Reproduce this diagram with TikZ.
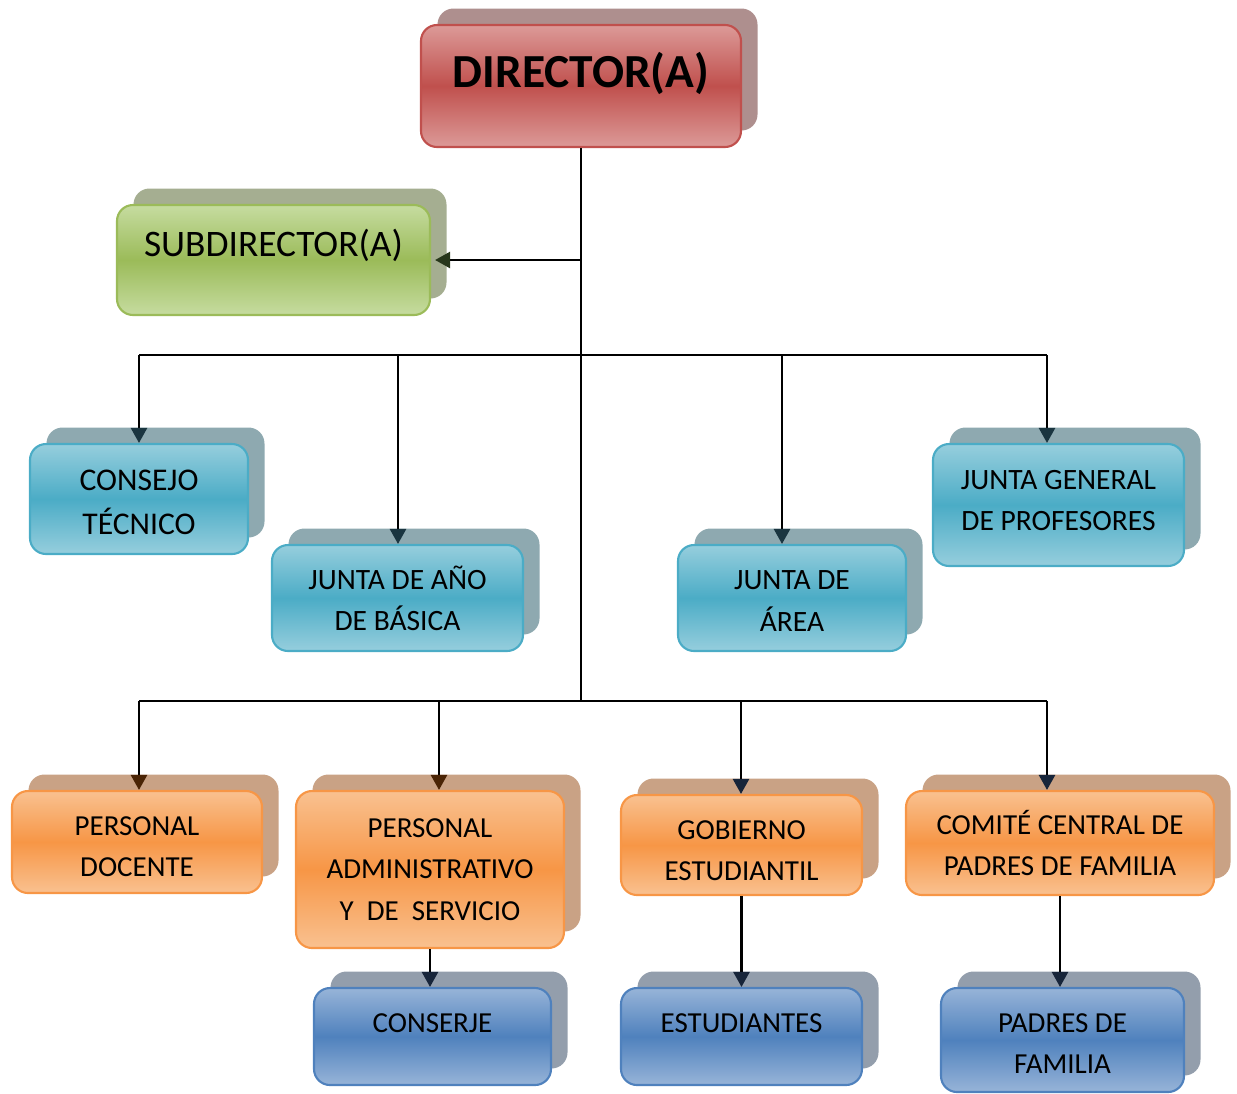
\documentclass[tikz,border=0pt]{standalone}
\usepackage{fontspec}
\setmainfont{Carlito}
\usetikzlibrary{positioning}
\usetikzlibrary{arrows.meta}
\usetikzlibrary{shadows}

\definecolor{dirred}{HTML}{C0504D}
\definecolor{dirlight}{HTML}{DC9A98}
\definecolor{dirshadow}{HTML}{AE8F8E}
\definecolor{subgreen}{HTML}{9BBB59}
\definecolor{sublight}{HTML}{C6DCA0}
\definecolor{subshadow}{HTML}{A5AE91}
\definecolor{tealmid}{HTML}{4BACC6}
\definecolor{teallight}{HTML}{96CEDD}
\definecolor{tealshadow}{HTML}{8EA9B0}
\definecolor{orangemid}{HTML}{F79646}
\definecolor{orangelight}{HTML}{F9C190}
\definecolor{orangeshadow}{HTML}{C9A285}
\definecolor{bluemid}{HTML}{4F81BD}
\definecolor{bluelight}{HTML}{97B4D8}
\definecolor{blueshadow}{HTML}{939EAC}
\definecolor{greentip}{HTML}{27361A}
\definecolor{tealtip}{HTML}{1A3540}
\definecolor{browntip}{HTML}{4A2405}
\definecolor{navytip}{HTML}{17253A}

\tikzset{
    boxsize/.style 2 args={minimum width=#1*0.02cm, minimum height=#2*0.02cm},
    orgbox/.style={rounded corners=0.32cm, line width=1.2pt, align=center, inner sep=2pt,
        font=\fontsize{16.5}{23.5}\selectfont},
    redbox/.style={orgbox, draw=dirred, top color=dirlight, bottom color=dirlight, middle color=dirred,
        general shadow={fill=dirshadow, shadow xshift=0.33cm, shadow yshift=0.33cm}},
    greenbox/.style={orgbox, draw=subgreen, top color=sublight, bottom color=sublight, middle color=subgreen,
        general shadow={fill=subshadow, shadow xshift=0.33cm, shadow yshift=0.33cm}},
    tealbox/.style={orgbox, draw=tealmid, top color=teallight, bottom color=teallight, middle color=tealmid,
        general shadow={fill=tealshadow, shadow xshift=0.33cm, shadow yshift=0.33cm},
        font=\fontsize{16.8}{23.5}\selectfont},
    orangebox/.style={orgbox, draw=orangemid, top color=orangelight, bottom color=orangelight, middle color=orangemid,
        general shadow={fill=orangeshadow, shadow xshift=0.33cm, shadow yshift=0.33cm}},
    bluebox/.style={orgbox, draw=bluemid, top color=bluelight, bottom color=bluelight, middle color=bluemid,
        general shadow={fill=blueshadow, shadow xshift=0.33cm, shadow yshift=0.33cm}},
    textup/.style 2 args={text height=#1, text depth=#2},
    conn/.style={draw=black, line width=1.4pt},
    greenarrow/.style={-{Triangle[length=0.3cm, width=0.32cm, color=greentip]}},
    tealarrow/.style={-{Triangle[length=0.3cm, width=0.32cm, color=tealtip]}},
    brownarrow/.style={-{Triangle[length=0.3cm, width=0.32cm, color=browntip]}},
    navyarrow/.style={-{Triangle[length=0.3cm, width=0.32cm, color=navytip]}}
}

\begin{document}
\begin{tikzpicture}[x=0.02cm, y=-0.02cm]
    \useasboundingbox (0,0) rectangle (1237,1093);

    % Top of the chart
    \node[redbox, boxsize={320}{122}, textup={17.4pt}{16pt}, font=\bfseries\fontsize{27}{32}\selectfont]
        (dir) at (581,86) {DIRECTOR(A)};
    \node[greenbox, boxsize={313}{110}, textup={13.5pt}{17pt}, font=\fontsize{21.3}{26}\selectfont]
        (subd) at (273.5,260) {SUBDIRECTOR(A)};

    % Councils and boards
    \node[tealbox, boxsize={218}{110}, textup={40.6pt}{0pt}, font=\fontsize{18}{25}\selectfont]
        (cons) at (139,499) {CONSEJO\\TÉCNICO};
    \node[tealbox, boxsize={251}{106}] (jano) at (397.5,598) {JUNTA DE AÑO\\DE BÁSICA};
    \node[tealbox, boxsize={228}{106}, textup={37.7pt}{0pt}] (jarea) at (792,598) {JUNTA DE\\ÁREA};
    \node[tealbox, boxsize={251}{122}, textup={34.3pt}{5pt}] (jgen) at (1058.5,505) {JUNTA GENERAL\\DE PROFESORES};

    % Staff, students and parents
    \node[orangebox, boxsize={250}{102}, textup={39.8pt}{0pt}] (pdoc) at (137,842) {PERSONAL\\DOCENTE};
    \node[orangebox, boxsize={268}{157}] (padm) at (430,869.5) {PERSONAL\\ADMINISTRATIVO\\Y\ \ DE\ \ SERVICIO};
    \node[orangebox, boxsize={241}{100}, textup={40.9pt}{0pt}] (gob) at (741.5,845) {GOBIERNO\\ESTUDIANTIL};
    \node[orangebox, boxsize={308}{104}] (comite) at (1060,843) {COMITÉ CENTRAL DE\\PADRES DE FAMILIA};

    \node[bluebox, boxsize={237}{97}, textup={10.6pt}{14.8pt}] (conserje) at (432.5,1036.5) {CONSERJE};
    \node[bluebox, boxsize={241}{97}, textup={10.6pt}{14.8pt}] (estud) at (741.5,1036.5) {ESTUDIANTES};
    \node[bluebox, boxsize={243}{104}, textup={38.1pt}{0pt}] (padres) at (1062.5,1040) {PADRES DE\\FAMILIA};

    % Junction points
    \coordinate (t1) at (581,260);
    \coordinate (t3) at (581,701);
    \coordinate (u1) at (139,355);
    \coordinate (u2) at (398,355);
    \coordinate (u3) at (782,355);
    \coordinate (u4) at (1047,355);
    \coordinate (l1) at (139,701);
    \coordinate (l2) at (439,701);
    \coordinate (l3) at (741,701);
    \coordinate (l4) at (1047,701);

    % Connectors
    \draw[conn] (dir.south) -- (t3);
    \draw[conn, greenarrow] (t1) -- ([xshift=0.08cm]subd.east);

    \draw[conn] (u1) -- (u4);
    \draw[conn, tealarrow] (u1) -- (u1 |- cons.north);
    \draw[conn, tealarrow] (u2) -- (u2 |- jano.north);
    \draw[conn, tealarrow] (u3) -- (u3 |- jarea.north);
    \draw[conn, tealarrow] (u4) -- (u4 |- jgen.north);

    \draw[conn] (l1) -- (l4);
    \draw[conn, brownarrow] (l1) -- (l1 |- pdoc.north);
    \draw[conn, brownarrow] (l2) -- (l2 |- padm.north);
    \draw[conn, navyarrow] (l3) -- (l3 |- gob.north);
    \draw[conn, navyarrow] (l4) -- (l4 |- comite.north);

    \draw[conn, navyarrow] (padm.south) -- (padm.south |- conserje.north);
    \draw[conn, navyarrow] (gob.south) -- (estud.north);
    \draw[conn, navyarrow] (comite.south) -- (comite.south |- padres.north);

\end{tikzpicture}
\end{document}
